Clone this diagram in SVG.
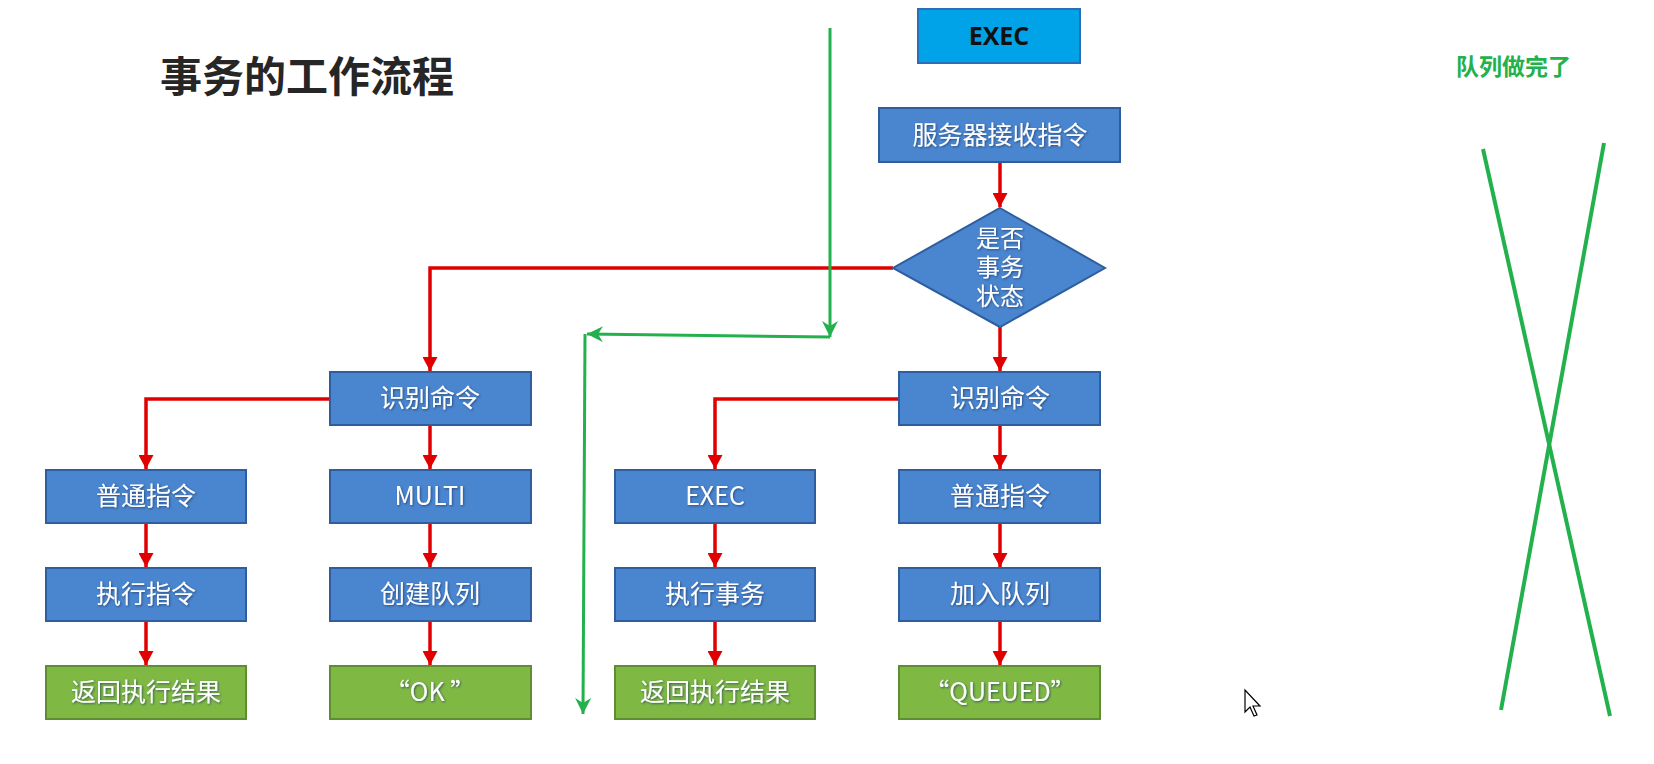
<svg xmlns="http://www.w3.org/2000/svg" width="1654" height="764" viewBox="0 0 1654 764">
<defs>
<marker id="ar" markerUnits="userSpaceOnUse" markerWidth="15" markerHeight="15" refX="14" refY="7.5" orient="auto"><path d="M0,0 L14,7.5 L0,15 Z" fill="#e00000"/></marker>
<marker id="ag" markerUnits="userSpaceOnUse" markerWidth="18" markerHeight="16" refX="16" refY="8" orient="auto"><path d="M0,0 L16,8 L0,16 L5,8 Z" fill="#22b14c"/></marker>
<filter id="ts" x="-10%" y="-20%" width="120%" height="140%"><feDropShadow dx="1" dy="1" stdDeviation="0.8" flood-color="#1a3560" flood-opacity="0.7"/></filter>
</defs>
<style>
.b{fill:#4a86cf;stroke:#2f5e9e;stroke-width:2}
.g{fill:#7fb944;stroke:#5e8e31;stroke-width:2}
.t{font-family:"Noto Sans CJK SC","Noto Sans",sans-serif;font-size:25px;fill:#fff;text-anchor:middle;filter:url(#ts)}
.d{font-size:24px}
.r{fill:none;stroke:#e00000;stroke-width:3.5;marker-end:url(#ar)}
.gl{fill:none;stroke:#22b14c;stroke-width:4}
.ga{fill:none;stroke:#22b14c;stroke-width:3;marker-end:url(#ag)}
</style>
<rect width="1654" height="764" fill="#ffffff"/>
<text x="160" y="92" font-family="Noto Sans CJK SC, sans-serif" font-size="42" font-weight="bold" fill="#262626">事务的工作流程</text>
<text x="1456" y="75" font-family="Noto Sans CJK SC, sans-serif" font-size="23" font-weight="bold" fill="#22b14c">队列做完了</text>

<g id="connectors">
<path class="r" d="M1000,162 L1000,207"/>
<path class="r" d="M893,268 L430,268 L430,371"/>
<path class="r" d="M1000,327 L1000,371"/>
<path class="r" d="M330,399 L146,399 L146,469"/>
<path class="r" d="M430,425 L430,469"/>
<path class="r" d="M146,523 L146,567"/>
<path class="r" d="M146,621 L146,665"/>
<path class="r" d="M430,523 L430,567"/>
<path class="r" d="M430,621 L430,665"/>
<path class="r" d="M899,399 L715,399 L715,469"/>
<path class="r" d="M1000,425 L1000,469"/>
<path class="r" d="M715,523 L715,567"/>
<path class="r" d="M715,621 L715,665"/>
<path class="r" d="M1000,523 L1000,567"/>
<path class="r" d="M1000,621 L1000,665"/>
<path class="ga" d="M830,28 L830,337"/>
<path class="ga" d="M830,337 L587,334"/>
<path class="ga" d="M585,334 L583,714"/>
</g>

<g id="exec-top"><rect x="918" y="9" width="162" height="54" fill="#00a2e8" stroke="#2a6fb6" stroke-width="2"/><text x="999" y="45" text-anchor="middle" font-family="Open Sans, sans-serif" font-size="25" font-weight="bold" fill="#111">EXEC</text></g>
<g id="receive"><rect class="b" x="879" y="108" width="241" height="54"/><text class="t" x="1000" y="144">服务器接收指令</text></g>
<g id="decision"><polygon class="b" points="1000,208 1105,268 1000,327 893,268"/><text class="t d" x="1000" y="247"><tspan x="1000" y="247">是否</tspan><tspan x="1000" y="276">事务</tspan><tspan x="1000" y="305">状态</tspan></text></g>

<g id="identify-left"><rect class="b" x="330" y="372" width="201" height="53"/><text class="t" x="430" y="407">识别命令</text></g>
<g id="normal-left"><rect class="b" x="46" y="470" width="200" height="53"/><text class="t" x="146" y="505">普通指令</text></g>
<g id="execute-cmd"><rect class="b" x="46" y="568" width="200" height="53"/><text class="t" x="146" y="603">执行指令</text></g>
<g id="result-left"><rect class="g" x="46" y="666" width="200" height="53"/><text class="t" x="146" y="701">返回执行结果</text></g>
<g id="multi"><rect class="b" x="330" y="470" width="201" height="53"/><text class="t" x="430" y="505">MULTI</text></g>
<g id="create-queue"><rect class="b" x="330" y="568" width="201" height="53"/><text class="t" x="430" y="603">创建队列</text></g>
<g id="ok"><rect class="g" x="330" y="666" width="201" height="53"/><text class="t" x="430" y="701">“OK ”</text></g>

<g id="identify-right"><rect class="b" x="899" y="372" width="201" height="53"/><text class="t" x="1000" y="407">识别命令</text></g>
<g id="exec"><rect class="b" x="615" y="470" width="200" height="53"/><text class="t" x="715" y="505">EXEC</text></g>
<g id="exec-tx"><rect class="b" x="615" y="568" width="200" height="53"/><text class="t" x="715" y="603">执行事务</text></g>
<g id="result-right"><rect class="g" x="615" y="666" width="200" height="53"/><text class="t" x="715" y="701">返回执行结果</text></g>
<g id="normal-right"><rect class="b" x="899" y="470" width="201" height="53"/><text class="t" x="1000" y="505">普通指令</text></g>
<g id="enqueue"><rect class="b" x="899" y="568" width="201" height="53"/><text class="t" x="1000" y="603">加入队列</text></g>
<g id="queued"><rect class="g" x="899" y="666" width="201" height="53"/><text class="t" x="1000" y="701">“QUEUED”</text></g>

<g id="cross">
<line class="gl" x1="1483" y1="149" x2="1610" y2="716"/>
<line class="gl" x1="1604" y1="143" x2="1501" y2="710"/>
</g>
<g id="cursor"><path d="M1245,690 L1245,712 L1250,707 L1254,716 L1257,715 L1253,706 L1260,706 Z" fill="#fff" stroke="#000" stroke-width="1.2"/></g>
</svg>
